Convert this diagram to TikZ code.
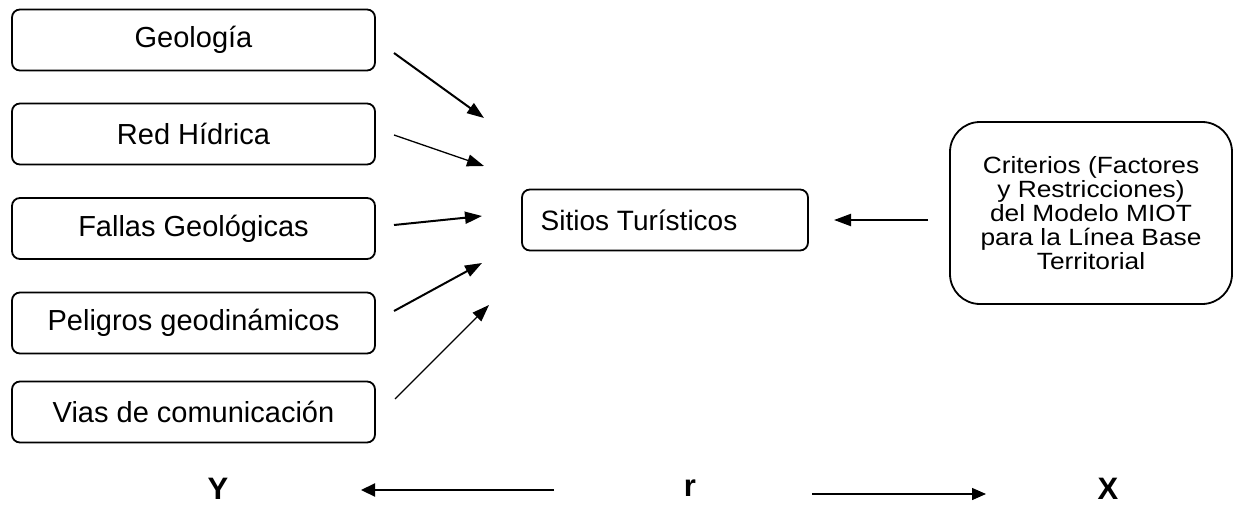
\documentclass[tikz,border=0pt]{standalone}
\usepackage{fontspec}
\setmainfont{Liberation Sans}
\newfontfamily\critfont[FakeStretch=1.12]{Liberation Sans}
\usetikzlibrary{arrows.meta}
\begin{document}
\begin{tikzpicture}[x=1pt,y=-1pt,
  factor/.style={draw,line width=1.8pt,rounded corners=8pt,minimum width=363pt,minimum height=61pt,inner sep=0pt,font=\fontsize{29}{32}\selectfont},
  flow/.style={line width=2pt,-{Triangle[length=17pt,width=12pt]}},
  thinflow/.style={line width=1.3pt,-{Triangle[length=17pt,width=12pt]}},
  axis/.style={line width=2.2pt,-{Triangle[length=14pt,width=13pt]}},
  letter/.style={font=\fontsize{31}{31}\selectfont\bfseries}]
\useasboundingbox (0,0) rectangle (1234,508);

% input factors
\node[factor] (geo) at (193.5,40) {Geología};
\node[factor] (red) at (193.5,134) {Red Hídrica};
\node[factor] (fal) at (193.5,228.5) {Fallas Geológicas};
\node[factor] (pel) at (193.5,323) {Peligros geodinámicos};
\node[factor] (via) at (193.5,412) {Vias de comunicación};

% target and criteria
\node[draw,line width=1.8pt,rounded corners=8pt,minimum width=286pt,minimum height=61pt,inner sep=0pt,
      font=\fontsize{28}{30}\selectfont] (sit) at (665,220) {\hspace*{-52pt}Sitios Turísticos};
\node[draw,line width=1.8pt,rounded corners=30pt,minimum width=282pt,minimum height=182pt,inner sep=0pt,
      align=center,font=\critfont\fontsize{23.5}{24.2}\selectfont] (cri) at (1091,213)
  {Criterios (Factores\\y Restricciones)\\del Modelo MIOT\\para la Línea Base\\Territorial};

% arrow end points
\coordinate (g0) at (394,53);  \coordinate (g1) at (484,118);
\coordinate (r0) at (394,135); \coordinate (r1) at (484,166);
\coordinate (f0) at (394,225); \coordinate (f1) at (482,216);
\coordinate (p0) at (394,311); \coordinate (p1) at (482,263);
\coordinate (v0) at (395,399); \coordinate (v1) at (489,305);
\coordinate (c0) at (928,220); \coordinate (c1) at (834,220);

\draw[flow] (g0) -- (g1);
\draw[thinflow] (r0) -- (r1);
\draw[flow] (f0) -- (f1);
\draw[flow] (p0) -- (p1);
\draw[thinflow] (v0) -- (v1);
\draw[flow] (c0) -- (c1);

% relation line
\node[letter] (y) at (218,489) {Y};
\node[letter] (r) at (690,488) {r};
\node[letter] (x) at (1108,489) {X};
\coordinate (ya) at (554,490); \coordinate (yb) at (361,490);
\coordinate (xa) at (812,494); \coordinate (xb) at (986,494);
\draw[axis] (ya) -- (yb);
\draw[line width=1.4pt,-{Triangle[length=14pt,width=12pt]}] (xa) -- (xb);
\end{tikzpicture}
\end{document}
